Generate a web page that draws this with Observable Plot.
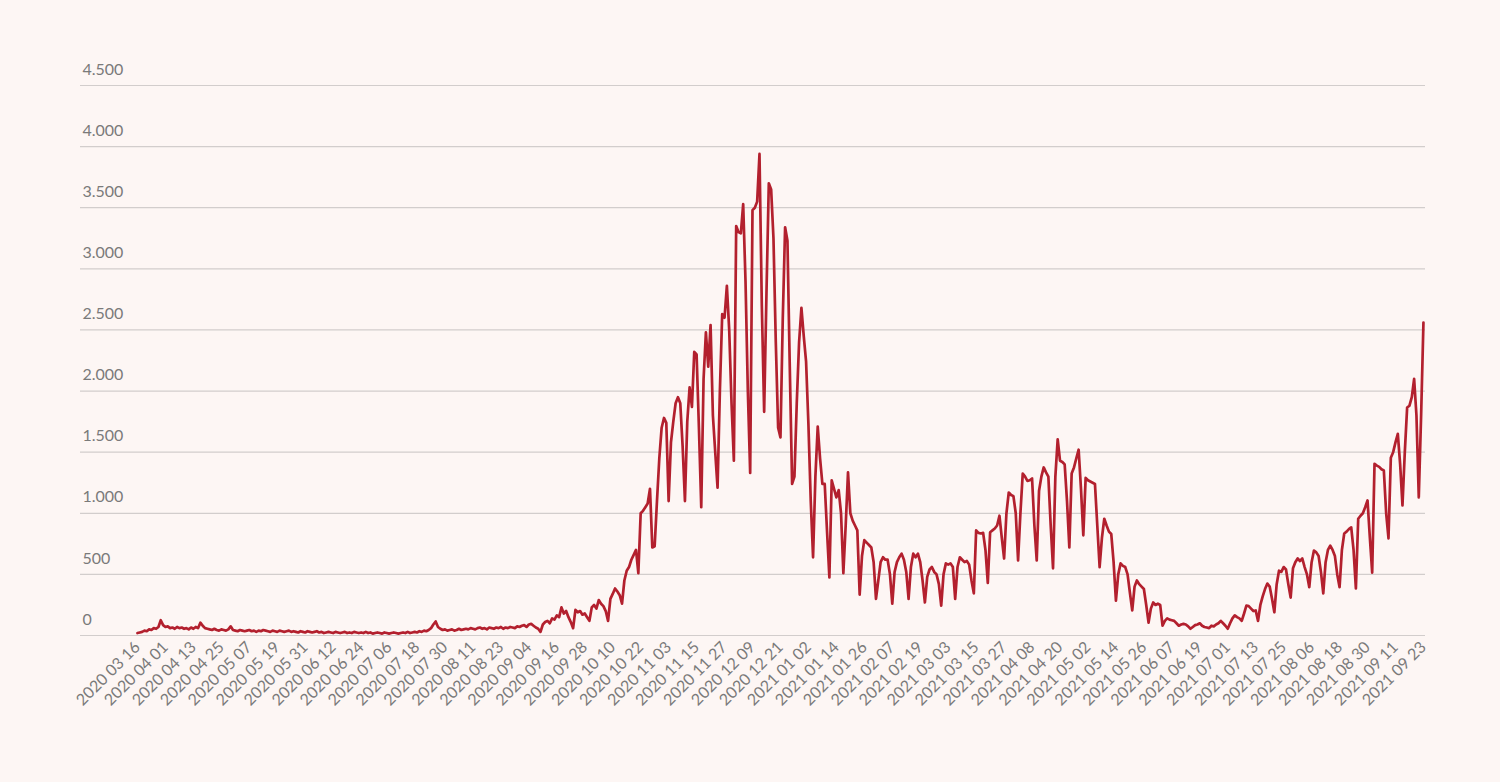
<!DOCTYPE html>
<html><head><meta charset="utf-8">
<script src="https://cdn.jsdelivr.net/npm/d3@7"></script>
<script src="https://cdn.jsdelivr.net/npm/@observablehq/plot@0.6"></script>
<style>
html,body{margin:0;padding:0;background:#fdf6f4;}
#chart{width:1500px;height:782px;overflow:hidden;}
</style></head><body><div id="chart"></div>
<script>
// first reported day, then a continuous daily series
const firstDate = "2020-03-16";
const seriesStart = "2020-03-21";

// daily new cases
const values2020Spring = [
  20, 25, 30, 40, 35, 50, 45, 60, 55, 70,
  125,
  85, 70, 75, 60, 65, 55, 70, 60, 65, 55, 60, 50, 65, 55, 70, 60,
  105,
  80, 60, 55, 50, 45, 55, 45, 40, 50, 45, 40, 50,
  75,
  45, 40, 35, 45, 40, 35, 40, 45, 35, 40, 30, 40, 35, 45, 40, 35, 30, 40, 35, 30, 40, 35, 30, 35, 40, 30, 35, 30, 25, 35
];
const values2020Summer = [
  30, 25, 35, 30, 25, 30, 35, 25, 30, 20, 25, 30, 25, 20, 30, 25, 20, 25, 30, 20, 25, 20, 30, 25, 20, 25, 20, 30,
  20, 25, 15, 20, 25, 20, 15, 25, 20, 15, 20, 25, 20, 15, 20, 25, 20, 30, 20, 25, 30, 25, 35, 30, 40, 35,
  45, 60, 90, 115,
  70, 55, 45, 50, 40, 45, 50, 40, 45, 55, 45, 50,
  55, 50, 60, 55, 50, 60, 65, 55, 60, 50, 65, 60, 55, 65, 60, 70, 55, 65, 60, 70, 65, 60, 75, 70, 80
];
const values2020Autumn = [
  85, 70, 90, 95, 80, 65, 55, 30, 90, 110, 120, 100, 140, 130, 165, 150, 230, 180, 200, 150, 110,
  60,
  210, 190, 200, 170, 180, 150,
  120,
  230, 250, 220, 290, 260, 240, 200,
  120,
  300, 340, 385, 360, 330,
  260,
  450, 530, 560, 620, 660, 700,
  510,
  1000, 1020, 1050, 1080, 1200,
  720,
  730, 1100, 1450, 1700, 1780, 1740
];
const values2020Winter = [
  1100, 1580, 1750, 1900, 1950, 1900, 1550, 1100, 1750, 2030,
  1870, 2320, 2300, 1700, 1050, 2100, 2480, 2200, 2540, 1800,
  1500, 1210, 2000, 2630, 2600, 2860, 2500, 1900, 1430, 3350,
  3300, 3290, 3530, 2900, 2000, 1330, 3480, 3500, 3550, 3940,
  2700, 1830, 2800, 3700, 3650, 3250, 2400, 1700, 1620, 2600,
  3340, 3230, 2200, 1240, 1300, 1900, 2400, 2680, 2450, 2240
];
const values2021Winter = [
  1730, 1100, 640, 1300, 1710, 1450, 1240, 1240, 850, 475,
  1270, 1200, 1130, 1190, 1000, 510, 900, 1335, 1000, 940,
  900, 860, 335, 650, 780, 760, 740, 720, 600, 300,
  450, 600, 640, 620, 620, 500, 260, 520, 600, 640,
  670, 620, 520, 300, 560, 670, 640, 670, 600, 450,
  270, 480, 540, 560, 520, 500, 420, 245, 500, 590,
  580, 590, 560, 300, 560, 640, 620, 600, 610, 580
];
const values2021Spring = [
  450, 345, 860, 840, 835, 840, 700, 430, 845, 860,
  875, 900, 980, 800, 630, 1000, 1170, 1150, 1140, 1000,
  615, 1000, 1325, 1300, 1265, 1270, 1285, 900, 615, 1185,
  1300, 1375, 1335, 1300, 900, 550, 1300, 1605, 1430, 1420,
  1400, 1100, 720, 1325, 1375, 1450, 1520, 1200, 820, 1290,
  1270, 1260, 1250, 1240, 900, 560, 800, 955, 900, 850,
  830, 600, 285, 500, 590, 570, 560, 500, 350, 205,
  400, 450, 420, 400, 380, 250, 105, 220, 270, 250
];
const values2021Summer = [
  260, 250, 80, 120, 140, 130, 125, 120, 100, 80,
  90, 95, 90, 75, 55, 70, 85, 90, 100, 80,
  70, 65, 60, 80, 75, 90, 100, 120, 100, 80,
  55, 100, 140, 165, 150, 140, 120, 180, 245, 240,
  220, 200, 205, 120, 250, 320, 380, 425, 400, 300,
  190, 420, 530, 520, 560, 540, 420, 310, 550, 600,
  630, 610, 630, 560, 500, 395, 600, 695, 680, 650,
  520, 345, 600, 700, 735, 700, 650, 500, 395, 700,
  835, 850, 870, 885, 700, 385, 955, 980, 1000, 1050,
  1105, 800, 515, 1405, 1390, 1380, 1360, 1350, 1000, 795,
  1455, 1500, 1580, 1650, 1400, 1065, 1500, 1865, 1880, 1950,
  2100, 1800, 1130, 1800, 2560
];

const tickLabels = [
  "2020 03 16","2020 04 01","2020 04 13","2020 04 25","2020 05 07","2020 05 19","2020 05 31",
  "2020 06 12","2020 06 24","2020 07 06","2020 07 18","2020 07 30","2020 08 11","2020 08 23",
  "2020 09 04","2020 09 16","2020 09 28","2020 10 10","2020 10 22","2020 11 03","2020 11 15",
  "2020 11 27","2020 12 09","2020 12 21","2021 01 02","2021 01 14","2021 01 26","2021 02 07",
  "2021 02 19","2021 03 03","2021 03 15","2021 03 27","2021 04 08","2021 04 20","2021 05 02",
  "2021 05 14","2021 05 26","2021 06 07","2021 06 19","2021 07 01","2021 07 13","2021 07 25",
  "2021 08 06","2021 08 18","2021 08 30","2021 09 11","2021 09 23"
];
const yTicks = [0, 500, 1000, 1500, 2000, 2500, 3000, 3500, 4000, 4500];

const values = [].concat(values2020Spring, values2020Summer, values2020Autumn, values2020Winter,
  values2021Winter, values2021Spring, values2021Summer);

const parse = d3.utcParse("%Y-%m-%d");
const fmtDate = d3.utcFormat("%Y %m %d");
const dates = values.map((v, i) => i === 0 ? parse(firstDate) : d3.utcDay.offset(parse(seriesStart), i - 1));
const data = values.map((v, i) => ({i, date: dates[i], label: fmtDate(dates[i]), v}));
const tickIdx = tickLabels.map(l => data.findIndex(d => d.label === l)).filter(i => i >= 0);
const locale = d3.formatLocale({decimal: ",", thousands: ".", grouping: [3], currency: ["", ""]});
const fmtY = locale.format(",");

const n = values.length - 1;
const chart = Plot.plot({
  width: 1500, height: 782,
  marginLeft: 80, marginRight: 75, marginTop: 85, marginBottom: 147,
  style: {background: "transparent", fontFamily: "Lato, 'Open Sans', sans-serif", color: "#7a7a7a"},
  x: {domain: [-0.0443 * n, 1.0016 * n], axis: null, label: null},
  y: {domain: [0, 4500], axis: null, label: null},
  marks: [
    Plot.ruleY(yTicks, {stroke: "#d2cdcc", strokeWidth: 1.2}),
    Plot.text(yTicks, {y: d => d, text: d => fmtY(d), frameAnchor: "left", textAnchor: "start",
      dx: 2, dy: -16, fontSize: 16, fill: "#7a7a7a"}),
    Plot.axisX({ticks: tickIdx, tickFormat: i => data[i].label, tickRotate: -45, tickSize: 0,
      tickPadding: 9, fontSize: 16, fill: "#7a7a7a", label: null}),
    Plot.line(data, {x: "i", y: "v", stroke: "#b3202e", strokeWidth: 2.7, strokeLinejoin: "round"})
  ]
});
document.getElementById("chart").appendChild(chart);
</script>
</body></html>
